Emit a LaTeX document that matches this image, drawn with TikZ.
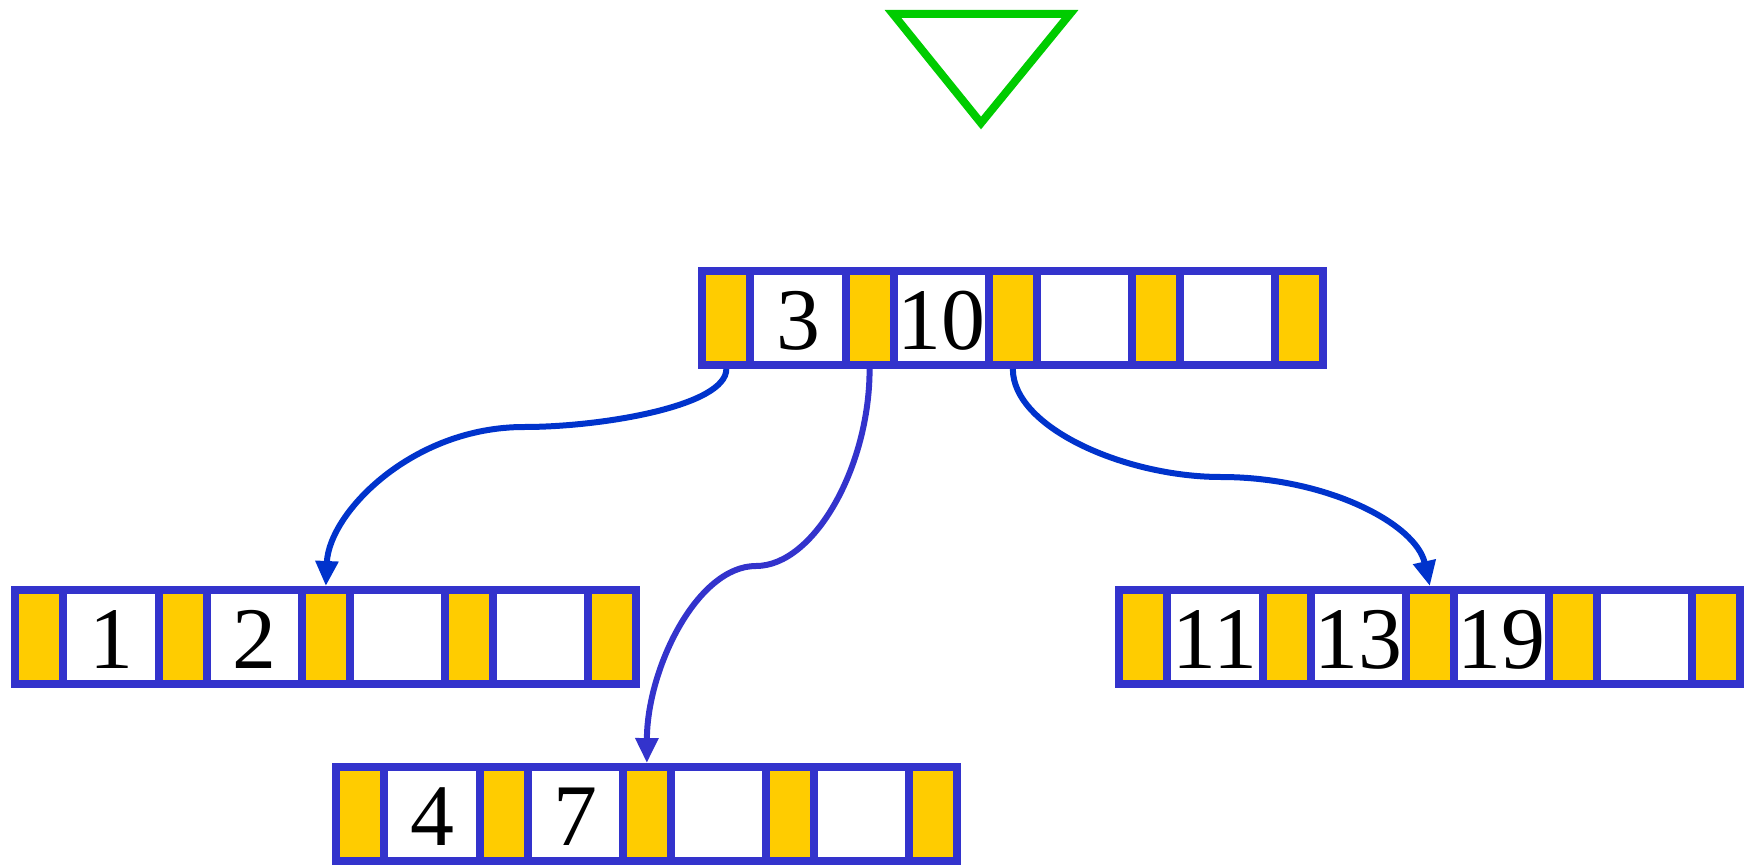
\documentclass[tikz,border=0pt]{standalone}
\usepackage{fontspec}
\setmainfont{Liberation Serif}
\usetikzlibrary{arrows.meta,positioning,calc}
\definecolor{frame}{HTML}{3333CC}
\definecolor{ptrfill}{HTML}{FFCC00}
\definecolor{link}{HTML}{0033CC}
\definecolor{cursor}{HTML}{00CC00}
\tikzset{
  >={Triangle[length=0.5cm,width=0.44cm]},
  keynode/.style={fill=frame, minimum width=12.58cm, minimum height=2.04cm, inner sep=0pt, outer sep=0pt, anchor=north west},
  ptrcell/.style={fill=ptrfill, minimum width=0.8cm, minimum height=1.72cm, inner sep=0pt, anchor=west},
  keycell/.style={fill=white, minimum width=1.745cm, minimum height=1.72cm, inner sep=0pt, anchor=west},
  keytext/.style={font=\fontsize{50}{54}\selectfont, inner sep=0pt, anchor=base},
  child/.style={->, draw=link, line width=0.12cm},
}
% one B-tree node: name, left, top, keys
\newcommand{\bnode}[4]{%
  \node[keynode] (#1) at (#2,#3) {};
  \foreach \j in {0,...,4}
    \node[ptrcell] (#1-p\j) at ($(#1.north west)+(8+\j*143.25,51)$) {};
  \foreach \k [count=\j from 0] in {#4}{
    \node[keycell] (#1-k\j) at ($(#1.north west)+(56+\j*143.25,51)$) {};
    \node[keytext] (#1-t\j) at ($(#1-k\j.center)+(0,31)$) {\k};
  }
}

\begin{document}
\begin{tikzpicture}[x=0.02cm,y=-0.02cm]
\useasboundingbox (0,0) rectangle (1748,865);

% -----------------------------------------------------------------------------
% cursor marker
% -----------------------------------------------------------------------------
\draw[draw=cursor, line width=0.16cm] (893,14) -- (1070,14) -- (981,123) -- cycle;

% -----------------------------------------------------------------------------
% nodes
% -----------------------------------------------------------------------------
\bnode{root}{698}{267}{3,10,{},{}}
\bnode{left}{11}{586}{1,2,{},{}}
\bnode{right}{1115}{586}{11,13,19,{}}
\bnode{mid}{332}{763}{4,7,{},{}}

% -----------------------------------------------------------------------------
% child pointers
% -----------------------------------------------------------------------------
\coordinate (bend1) at (524,427);
\coordinate (bend2) at (756,566);
\coordinate (bend3) at (1221,477);

\draw[child] (root-p0 |- root.south) .. controls +(0,37) and (602,427) .. (bend1)
  .. controls (412,427) and (329,513) .. (left-p2 |- left.north);
\draw[child, draw=frame] (root-p1 |- root.south) .. controls +(0,98) and (814,566) .. (bend2)
  .. controls (697,566) and (647,669) .. (mid-p2 |- mid.north);
\draw[child] (root-p2 |- root.south) .. controls +(0,59) and (1126,477) .. (bend3)
  .. controls (1327,477) and (1416,524) .. (right-p2 |- right.north);

\end{tikzpicture}
\end{document}
